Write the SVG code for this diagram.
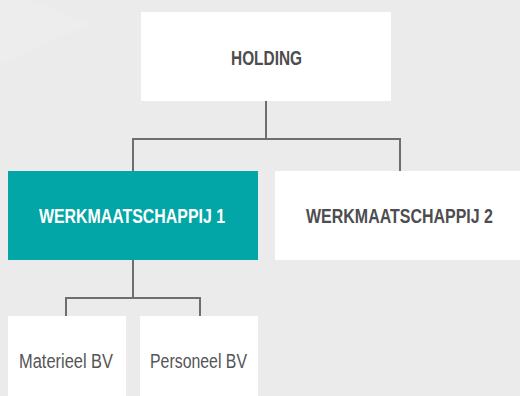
<svg xmlns="http://www.w3.org/2000/svg" width="520" height="396" viewBox="0 0 520 396">
<style>
.box{fill:#ffffff}
.hl{fill:#03a6a6}
.cap{font-family:"Liberation Sans",Arial,sans-serif;font-weight:bold;font-size:21px;fill:#4d4d4f;text-anchor:middle}
.lab{font-family:"Liberation Sans",Arial,sans-serif;font-size:21px;fill:#555557;text-anchor:middle}
.wt{fill:#ffffff}
.con{fill:none;stroke:#6d6e71;stroke-width:2}
</style>
<rect width="520" height="396" fill="#ebebeb"/>
<polygon points="0,0 30,0 90,24 0,64" fill="#ededed"/>
<g id="connectors">
<path class="con" d="M266,101 V139 M133,139 H400 M133,138 V171 M400,138 V171"/>
<path class="con" d="M133,260 V298 M66,298 H200 M66,297 V316 M200,297 V316"/>
</g>
<g id="holding">
<rect class="box" x="141" y="12" width="250" height="89"/>
<text class="cap" transform="translate(266.5,65) scale(0.76,1)" textLength="93.4" lengthAdjust="spacingAndGlyphs">HOLDING</text>
</g>
<g id="werkmaatschappij1">
<rect class="hl" x="8" y="171" width="250" height="89"/>
<text class="cap wt" transform="translate(132,223.3) scale(0.76,1)" textLength="244.7" lengthAdjust="spacingAndGlyphs">WERKMAATSCHAPPIJ 1</text>
</g>
<g id="werkmaatschappij2">
<rect class="box" x="275" y="171" width="245" height="89"/>
<text class="cap" transform="translate(399.5,223.3) scale(0.76,1)" textLength="246" lengthAdjust="spacingAndGlyphs">WERKMAATSCHAPPIJ 2</text>
</g>
<g id="materieel">
<rect class="box" x="8" y="316" width="118" height="80"/>
<text class="lab" transform="translate(66,368.3) scale(0.76,1)" textLength="123.7" lengthAdjust="spacingAndGlyphs">Materieel BV</text>
</g>
<g id="personeel">
<rect class="box" x="140" y="316" width="118" height="80"/>
<text class="lab" transform="translate(198.5,368.3) scale(0.76,1)" textLength="127.6" lengthAdjust="spacingAndGlyphs">Personeel BV</text>
</g>
</svg>
